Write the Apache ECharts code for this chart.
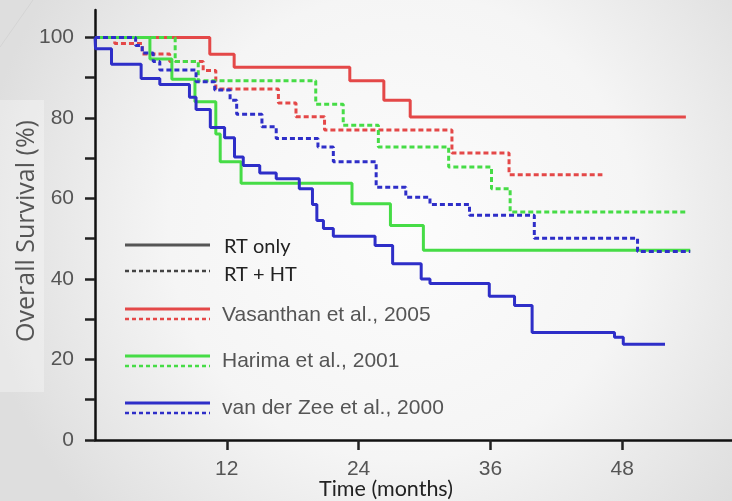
<!DOCTYPE html>
<html>
<head>
<meta charset="utf-8">
<script src="https://cdn.jsdelivr.net/npm/echarts@6/dist/echarts.min.js"></script>
<style>
  html, body { margin: 0; padding: 0; }
  #chart { width: 732px; height: 501px; }
</style>
</head>
<body>
<div id="chart"></div>
<script>
// Kaplan-Meier overall survival, [month, survival %] — each value holds until the next step.
const vasanthanRT = [[0, 100], [10.45, 95.8], [12.67, 92.6], [23.2, 89.2], [26.3, 84.4], [28.7, 80.2], [53.8, 80.2]];
const vasanthanRTHT = [[0, 100], [1.8, 98.5], [4.3, 95.9], [6.8, 94.0], [9.85, 91.8], [11.0, 87.2], [16.7, 83.7], [18.3, 80.3], [20.9, 77.0], [32.5, 71.3], [37.7, 65.9], [46.2, 65.9]];
const harimaRT = [[0, 100], [5.0, 94.6], [7.0, 89.6], [9.1, 84.0], [11.0, 76.0], [11.4, 69.1], [13.3, 63.8], [23.4, 58.7], [26.9, 53.3], [29.9, 47.1], [54.2, 47.1]];
const harimaRTHT = [[0, 100], [7.3, 94.0], [9.4, 89.2], [20.1, 83.4], [22.6, 78.2], [25.8, 72.8], [32.2, 67.8], [36.1, 62.4], [37.8, 56.6], [54.0, 56.6]];
const vanDerZeeRT = [[0, 100], [0.05, 97.2], [1.5, 93.3], [4.2, 89.8], [5.9, 88.3], [8.6, 85.1], [9.2, 82.1], [10.5, 77.6], [11.8, 75.1], [12.7, 70.3], [13.5, 68.2], [15.0, 66.3], [16.5, 64.9], [18.6, 62.4], [19.8, 58.5], [20.2, 54.5], [20.8, 52.5], [21.7, 50.6], [25.5, 48.3], [27.1, 43.8], [29.7, 40.0], [30.5, 38.9], [35.9, 35.7], [38.2, 33.4], [39.8, 26.7], [47.3, 25.5], [48.1, 23.8], [51.9, 23.8]];
const vanDerZeeRTHT = [[0, 100], [3.7, 98.0], [4.3, 96.1], [5.3, 94.0], [5.9, 91.9], [9.2, 89.0], [10.9, 86.9], [12.3, 84.4], [12.9, 80.9], [15.2, 77.8], [16.5, 74.9], [20.3, 72.8], [21.7, 69.1], [25.6, 62.8], [28.3, 60.3], [30.5, 58.5], [34.1, 55.8], [40.0, 50.1], [49.4, 46.8], [54.2, 46.8]];

const monthTicks = [12, 24, 36, 48];
const survivalTicks = [0, 10, 20, 30, 40, 50, 60, 70, 80, 90, 100];
const survivalLabels = [0, 20, 40, 60, 80, 100];

const studies = ['Vasanthan et al., 2005', 'Harima et al., 2001', 'van der Zee et al., 2000'];
const treatments = ['RT only', 'RT + HT'];

const RED = '#e44848';
const GREEN = '#46dc46';
const BLUE = '#2e2ec8';
const DASH = [5, 3];

function curve(name, data, color, dashed) {
  return {
    name: name,
    type: 'line',
    step: 'end',
    data: data,
    symbol: 'none',
    silent: true,
    animation: false,
    lineStyle: { color: color, width: 3, type: dashed ? DASH : 'solid' }
  };
}

// Legend swatches: a solid line over a dashed line per study.
function swatch(y, color, dashed) {
  return {
    type: 'line',
    shape: { x1: 125, y1: y, x2: 210, y2: y },
    style: { stroke: color, lineWidth: dashed ? 2.5 : 3, lineDash: dashed ? [4, 3] : null }
  };
}
function label(x, y, text, font, size, color) {
  return {
    type: 'text', x: x, y: y,
    style: { text: text, fontFamily: font, fontSize: size, fill: color, verticalAlign: 'middle', align: 'left' }
  };
}

const chart = echarts.init(document.getElementById('chart'), null, { renderer: 'canvas' });
chart.setOption({
  backgroundColor: {
    type: 'radial', x: 0.55, y: 0.45, r: 0.85,
    colorStops: [
      { offset: 0, color: '#fcfcfc' },
      { offset: 0.55, color: '#f5f5f5' },
      { offset: 1, color: '#dedede' }
    ]
  },
  grid: { left: 95, right: 0, top: 10, bottom: 61, outerBoundsMode: 'none' },
  xAxis: {
    type: 'value', min: 0, max: 58,
    axisLine: { show: true, onZero: false, lineStyle: { color: '#111', width: 2.5 } },
    axisTick: { show: true, customValues: monthTicks, length: 10, lineStyle: { color: '#222', width: 2.5 } },
    axisLabel: { customValues: monthTicks, fontFamily: 'Liberation Sans', fontSize: 21, color: '#555', margin: 19 },
    splitLine: { show: false }
  },
  yAxis: {
    type: 'value', min: 0, max: 106.8,
    axisLine: { show: true, onZero: false, lineStyle: { color: '#111', width: 2.5 } },
    axisTick: { show: true, customValues: survivalTicks, length: 10, lineStyle: { color: '#222', width: 2.5 } },
    axisLabel: { customValues: survivalLabels, fontFamily: 'Liberation Sans', fontSize: 21, color: '#555', margin: 21 },
    splitLine: { show: false }
  },
  graphic: [
    { type: 'rect', shape: { x: 0, y: 100, width: 44, height: 292 }, style: { fill: 'rgba(255,255,255,0.3)' }, z: -1 },
    { type: 'line', shape: { x1: 0, y1: 47, x2: 33, y2: 0 }, style: { stroke: '#d4d4d4', lineWidth: 1 } },
    {
      type: 'text', x: 27, y: 231, rotation: Math.PI / 2,
      style: { text: 'Overall Survival (%)', fontFamily: 'Open Sans', fontSize: 25, fill: '#555', align: 'center', verticalAlign: 'middle' }
    },
    {
      type: 'text', x: 386, y: 489,
      style: { text: 'Time (months)', fontFamily: 'Lato', fontSize: 21.5, fill: '#222', align: 'center', verticalAlign: 'middle' }
    },
    swatch(245, '#555', false), label(224, 247, treatments[0], 'Lato', 20, '#222'),
    swatch(271, '#444', true), label(224, 275, treatments[1], 'Lato', 20, '#222'),
    swatch(309, RED, false), swatch(319, RED, true), label(222, 315, studies[0], 'Liberation Sans', 21, '#555'),
    swatch(356, GREEN, false), swatch(366, GREEN, true), label(222, 361, studies[1], 'Liberation Sans', 21, '#555'),
    swatch(403, BLUE, false), swatch(413, BLUE, true), label(222, 408, studies[2], 'Liberation Sans', 21, '#555')
  ],
  series: [
    curve(studies[0] + ' — ' + treatments[0], vasanthanRT, RED, false),
    curve(studies[0] + ' — ' + treatments[1], vasanthanRTHT, RED, true),
    curve(studies[1] + ' — ' + treatments[0], harimaRT, GREEN, false),
    curve(studies[1] + ' — ' + treatments[1], harimaRTHT, GREEN, true),
    curve(studies[2] + ' — ' + treatments[0], vanDerZeeRT, BLUE, false),
    curve(studies[2] + ' — ' + treatments[1], vanDerZeeRTHT, BLUE, true)
  ]
});
</script>
</body>
</html>
